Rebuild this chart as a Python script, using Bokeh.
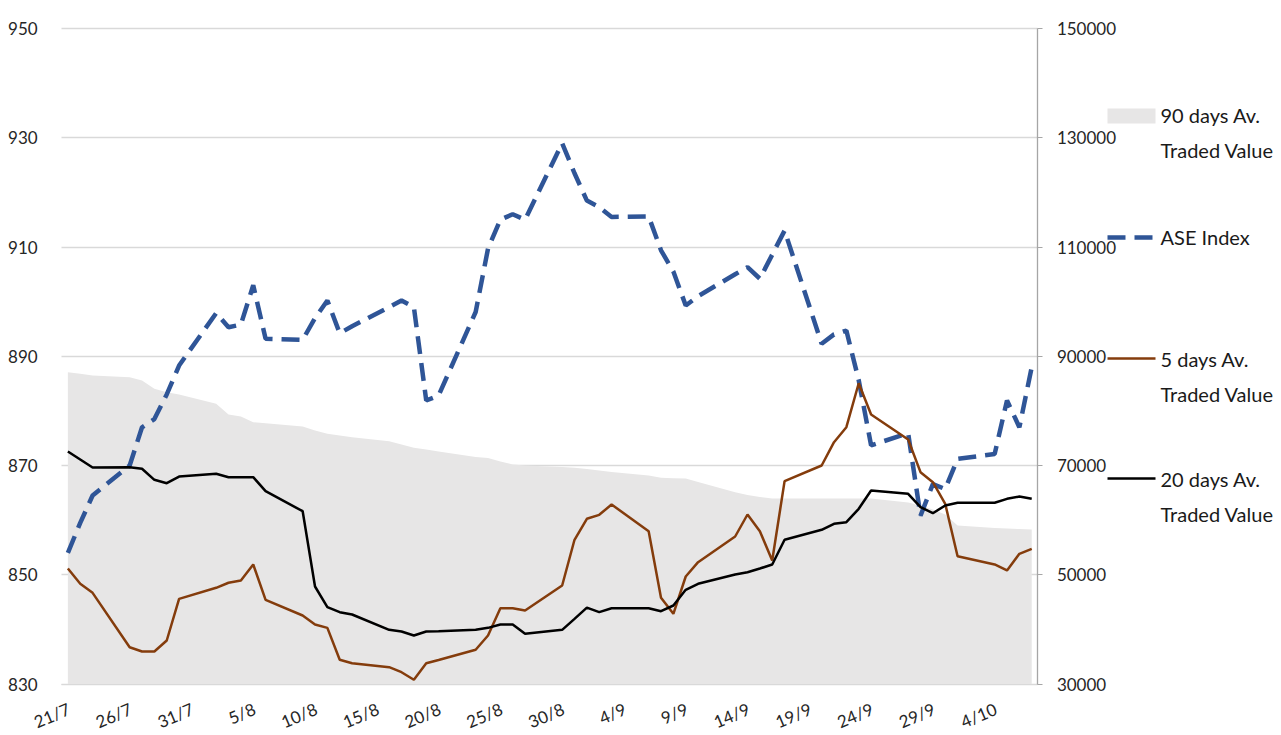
import pandas as pd
from bokeh.plotting import figure
from bokeh.models import (Range1d, LinearAxis, FixedTicker, Grid, ColumnDataSource,
                          BasicTickFormatter, CustomJSTickFormatter)
from bokeh.core.properties import value
from bokeh.embed import file_html
from bokeh.resources import INLINE

# ---------------- data ----------------
dates = [
    "2021-07-21", "2021-07-22", "2021-07-23", "2021-07-26", "2021-07-27", "2021-07-28", "2021-07-29", "2021-07-30",
    "2021-08-02", "2021-08-03", "2021-08-04", "2021-08-05", "2021-08-06",
    "2021-08-09", "2021-08-10", "2021-08-11", "2021-08-12", "2021-08-13",
    "2021-08-16", "2021-08-17", "2021-08-18", "2021-08-19", "2021-08-20",
    "2021-08-23", "2021-08-24", "2021-08-25", "2021-08-26", "2021-08-27",
    "2021-08-30", "2021-08-31", "2021-09-01", "2021-09-02", "2021-09-03",
    "2021-09-06", "2021-09-07", "2021-09-08", "2021-09-09", "2021-09-10",
    "2021-09-13", "2021-09-14", "2021-09-15", "2021-09-16", "2021-09-17",
    "2021-09-20", "2021-09-21", "2021-09-22", "2021-09-23", "2021-09-24",
    "2021-09-27", "2021-09-28", "2021-09-29", "2021-09-30", "2021-10-01",
    "2021-10-04", "2021-10-05", "2021-10-06", "2021-10-07",
]

ase_index = [
    854.0, 859.5, 864.5, 870.0, 877.0, 878.5, 883.0, 888.3,
    897.9, 895.3, 895.8, 903.0, 893.2,
    893.0, 897.0, 900.2, 894.2, 895.5,
    899.0, 900.2, 899.0, 881.9, 882.8,
    898.1, 909.7, 915.0, 916.0, 915.0,
    929.0, 923.5, 918.5, 917.3, 915.5,
    915.6, 909.4, 905.5, 899.3, 901.0,
    905.0, 906.3, 904.2, 908.6, 913.0,
    892.3, 894.0, 894.7, 885.6, 873.7,
    875.9, 860.8, 866.6, 865.7, 871.2,
    872.1, 881.9, 877.0, 888.0,
]

tv_5d = [
    51140, 48340, 46690, 36720, 35950, 35950, 37960, 45590,
    47610, 48530, 48950, 51880, 45410,
    42540, 40890, 40280, 34430, 33800,
    33080, 32160, 30770, 33810, 34400,
    36260, 38880, 43880, 43880, 43450,
    48030, 56400, 60240, 60970, 62860,
    57970, 45780, 42840, 49680, 52300,
    57000, 61030, 57970, 52610, 67130,
    70000, 74270, 77010, 85060, 79340,
    74760, 68780, 66940, 62990, 53390,
    51880, 50780, 53830, 54750,
]

tv_20d = [
    72560, 71100, 69630, 69700, 69400, 67380, 66760, 67980,
    68480, 67860, 67860, 67860, 65300,
    61630, 47850, 44060, 43150, 42720,
    39920, 39610, 38880, 39610, 39660,
    39920, 40280, 40890, 40890, 39190,
    39920, 41930, 43970, 43150, 43870,
    43870, 43330, 44370, 47240, 48340,
    50040, 50470, 51140, 51880, 56400,
    58230, 59330, 59620, 62070, 65420,
    64820, 62370, 61270, 62680, 63170,
    63170, 63900, 64320, 63900,
]

tv_90d = [
    87080, 86780, 86480, 86170, 85560, 84040, 83420, 83000,
    81290, 79340, 78970, 77930, 77750,
    77140, 76410, 75800, 75490, 75180,
    74440, 73840, 73240, 72930, 72560,
    71550, 71370, 70730, 70180, 70000,
    69720, 69580, 69360, 69080, 68810,
    68170, 67750, 67680, 67620, 66980,
    65110, 64600, 64230, 63960, 63960,
    63960, 63960, 63960, 63960, 63960,
    63220, 62680, 61940, 61030, 59010,
    58560, 58470, 58370, 58280,
]

tick_labels = ["21/7", "26/7", "31/7", "5/8", "10/8", "15/8", "20/8", "25/8",
               "30/8", "4/9", "9/9", "14/9", "19/9", "24/9", "29/9", "4/10"]
left_ticks = [830, 850, 870, 890, 910, 930, 950]
right_ticks = [30000, 50000, 70000, 90000, 110000, 130000, 150000]

legend_names = [["90 days Av.", "Traded Value"], ["ASE Index"],
                ["5 days Av.", "Traded Value"], ["20 days Av.", "Traded Value"]]

# ---------------- derived x positions (calendar days from first date) ----------------
dt = pd.to_datetime(dates)
x = [(d - dt[0]).days + 0.5 for d in dt]
NDAYS = (dt[-1] - dt[0]).days + 1
src = ColumnDataSource(dict(x=x, ase=ase_index, tv5=tv_5d, tv20=tv_20d, tv90=tv_90d))

# ---------------- styling / layout constants ----------------
BLUE = "#2F5597"
BROWN = "#843C0C"
BLACK = "#000000"
GREY = "#E7E6E6"
GRID = "#D9D9D9"
TXT = "#262626"
FONT = "Lato"

W, H = 1281, 735
PLOT_LEFT, PLOT_RIGHT = 61.2, 1037.4     # pixel extent of the plotting area
PLOT_TOP, PLOT_BOTTOM = 28.0, 683.5
LMIN, LMAX = min(left_ticks), max(left_ticks)
RMIN, RMAX = min(right_ticks), max(right_ticks)

pxd = (PLOT_RIGHT - PLOT_LEFT) / NDAYS
pxu = (PLOT_BOTTOM - PLOT_TOP) / (LMAX - LMIN)
x0 = -PLOT_LEFT / pxd
x1 = x0 + W / pxd
ytop = LMAX + PLOT_TOP / pxu
ybot = LMAX - (H - PLOT_TOP) / pxu
rscale = (RMAX - RMIN) / (LMAX - LMIN)

def X(px):
    return x0 + px / pxd

def Y(py):
    return ytop - py / pxu

p = figure(width=W, height=H, x_range=Range1d(x0, x1), y_range=Range1d(ybot, ytop),
           x_axis_type=None, y_axis_type=None, title=None,
           min_border_left=0, min_border_right=0, min_border_top=0, min_border_bottom=0,
           toolbar_location=None, output_backend="svg", outline_line_color=None,
           background_fill_color="white", border_fill_color="white")
p.extra_y_ranges = {"tv": Range1d(RMIN + (ybot - LMIN) * rscale, RMIN + (ytop - LMIN) * rscale)}

# grid (horizontal only, limited to the plotting area)
g = Grid(dimension=1, ticker=FixedTicker(ticks=left_ticks), grid_line_color=GRID,
         grid_line_width=1.3)
if "cross_bounds" in Grid.properties():
    g.cross_bounds = (0, NDAYS)
    p.add_layout(g)
else:
    p.segment(x0=0, x1=NDAYS, y0=left_ticks, y1=left_ticks, line_color=GRID,
              line_width=1.3, level="underlay")

# left axis
ya = LinearAxis(fixed_location=0, bounds=(LMIN, LMAX), ticker=FixedTicker(ticks=left_ticks))
ya.axis_line_color = None
ya.major_tick_line_color = None
ya.minor_tick_line_color = None
ya.major_label_standoff = 18
ya.major_label_text_font = FONT
ya.major_label_text_font_size = "17px"
ya.major_label_text_color = TXT
p.add_layout(ya, "left")

# right axis
ra = LinearAxis(y_range_name="tv", fixed_location=NDAYS, bounds=(RMIN, RMAX),
                ticker=FixedTicker(ticks=right_ticks),
                formatter=BasicTickFormatter(use_scientific=False))
ra.axis_line_color = "#A6A6A6"
ra.axis_line_width = 1.3
ra.major_tick_line_color = "#A6A6A6"
ra.major_tick_in = 0
ra.major_tick_out = 5
ra.minor_tick_line_color = None
ra.major_label_standoff = 14
ra.major_label_text_font = FONT
ra.major_label_text_font_size = "17px"
ra.major_label_text_color = TXT
p.add_layout(ra, "right")

# bottom axis
xt = [5 * i + 0.6 for i in range(len(tick_labels))]
xa = LinearAxis(fixed_location=LMIN, bounds=(0, NDAYS), ticker=FixedTicker(ticks=xt),
                formatter=CustomJSTickFormatter(args=dict(labels=tick_labels),
                                                code="return labels[index]"))
xa.axis_line_color = GRID
xa.major_tick_line_color = None
xa.minor_tick_line_color = None
xa.major_label_orientation = 0.4
xa.major_label_standoff = 18
xa.major_label_text_font = FONT
xa.major_label_text_font_size = "17px"
xa.major_label_text_color = TXT
p.add_layout(xa, "below")

# series
p.varea(x="x", y1=RMIN, y2="tv90", source=src, y_range_name="tv", fill_color=GREY)
p.line("x", "ase", source=src, line_color=BLUE, line_width=4.5, line_dash="18 9")
p.line("x", "tv5", source=src, y_range_name="tv", line_color=BROWN, line_width=2.5)
p.line("x", "tv20", source=src, y_range_name="tv", line_color=BLACK, line_width=2.5)

# ---------------- legend (drawn to the right of the plotting area) ----------------
p.quad(left=X(1107), right=X(1155), top=Y(108), bottom=Y(123), fill_color=GREY, line_color=None)
p.line([X(1107), X(1152)], [Y(237), Y(237)], line_color=BLUE, line_width=4.5, line_dash="18 9")
p.line([X(1107), X(1155)], [Y(358), Y(358)], line_color=BROWN, line_width=2.5)
p.line([X(1107), X(1155)], [Y(478), Y(478)], line_color=BLACK, line_width=2.5)

baselines = [[114, 149], [236], [358, 393], [478, 513]]
lt, ly = [], []
for names, bls in zip(legend_names, baselines):
    for name, b in zip(names, bls):
        lt.append(name)
        ly.append(Y(b))
p.text(x=[X(1160)] * len(lt), y=ly, text=lt, text_font=value(FONT),
       text_font_size=value("20px"), text_color="#1a1a1a",
       text_baseline="alphabetic", text_align="left")

open("out.html", "w").write(file_html(p, INLINE))
